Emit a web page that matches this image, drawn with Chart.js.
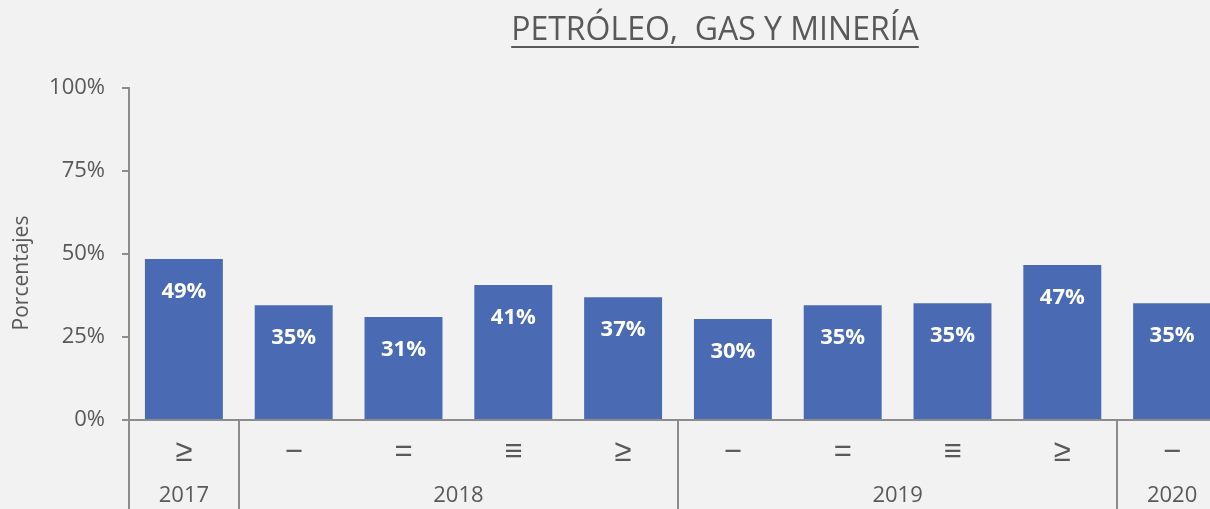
<!DOCTYPE html>
<html>
<head>
<meta charset="utf-8">
<script src="https://cdn.jsdelivr.net/npm/chart.js@4"></script>
<style>
  html, body { margin: 0; padding: 0; background: #f2f2f2; overflow: hidden; }
  canvas { display: block; }
</style>
</head>
<body>
<canvas id="chart" width="1227" height="509"></canvas>
<script>
// data
const quarters = ["≥", "−", "=", "≡", "≥", "−", "=", "≡", "≥", "−"];
const values = [48.5, 34.6, 31.0, 40.7, 37.0, 30.4, 34.6, 35.2, 46.7, 35.2];
const years = ["2017", "2018", "2019", "2020"];
const yearSpans = [1, 4, 4, 1];
const yTicks = [0, 25, 50, 75, 100];

const textColor = "#595959";
const lineColor = "#8c8c8c";
const fontFamily = "'Open Sans', sans-serif";

const extras = {
  id: "extras",
  afterDraw(chart) {
    const ctx = chart.ctx;
    const x = chart.scales.x;
    const area = chart.chartArea;
    ctx.save();

    // title, underlined
    ctx.fillStyle = textColor;
    ctx.font = "32px " + fontFamily;
    ctx.textAlign = "center";
    ctx.textBaseline = "middle";
    const title = "PETRÓLEO,  GAS Y MINERÍA";
    ctx.fillText(title, 715, 31);
    const tw = ctx.measureText(title).width;
    ctx.fillRect(715 - tw / 2, 46, tw, 2);

    // y axis title
    ctx.save();
    ctx.translate(22, 273);
    ctx.rotate(-Math.PI / 2);
    ctx.font = "21px " + fontFamily;
    ctx.fillText("Porcentajes", 0, 0);
    ctx.restore();

    // value labels inside bars
    const meta = chart.getDatasetMeta(0);
    ctx.fillStyle = "#ffffff";
    ctx.font = "bold 22px " + fontFamily;
    meta.data.forEach((bar, i) => {
      ctx.fillText(Math.round(values[i]) + "%", bar.x, bar.y + 33);
    });

    // year groups
    const step = x.getPixelForValue(1) - x.getPixelForValue(0);
    ctx.strokeStyle = lineColor;
    ctx.lineWidth = 2;
    ctx.fillStyle = textColor;
    ctx.font = "22px " + fontFamily;
    let idx = 0;
    years.forEach((yr, k) => {
      const left = x.getPixelForValue(idx) - step / 2;
      const right = x.getPixelForValue(idx + yearSpans[k] - 1) + step / 2;
      ctx.beginPath();
      ctx.moveTo(Math.round(left), area.bottom);
      ctx.lineTo(Math.round(left), chart.height);
      ctx.stroke();
      ctx.fillText(yr, (left + right) / 2, 496);
      idx += yearSpans[k];
    });
    ctx.restore();
  }
};

new Chart(document.getElementById("chart").getContext("2d"), {
  type: "bar",
  data: {
    labels: quarters,
    datasets: [{
      data: values,
      backgroundColor: "#4a6bb3",
      categoryPercentage: 1,
      barPercentage: 0.71
    }]
  },
  options: {
    responsive: false,
    animation: false,
    devicePixelRatio: 1,
    layout: { padding: { top: 88, left: 0, right: 0, bottom: 0 } },
    plugins: { legend: { display: false }, tooltip: { enabled: false } },
    scales: {
      x: {
        grid: { display: false },
        border: { color: lineColor, width: 2 },
        ticks: { color: textColor, font: { family: "'Liberation Sans', sans-serif", size: 31 }, padding: 6, maxRotation: 0 },
        afterFit(scale) { scale.height = 89; }
      },
      y: {
        min: 0,
        max: 100,
        afterBuildTicks(scale) { scale.ticks = yTicks.map(v => ({ value: v })); },
        grid: { drawOnChartArea: false, drawTicks: true, tickLength: 7, color: lineColor, lineWidth: 2 },
        border: { color: lineColor, width: 2 },
        ticks: {
          color: textColor,
          font: { family: fontFamily, size: 22 },
          padding: 17,
          callback: v => v + "%"
        },
        afterFit(scale) { scale.width = 129; }
      }
    }
  },
  plugins: [extras]
});
</script>
</body>
</html>
